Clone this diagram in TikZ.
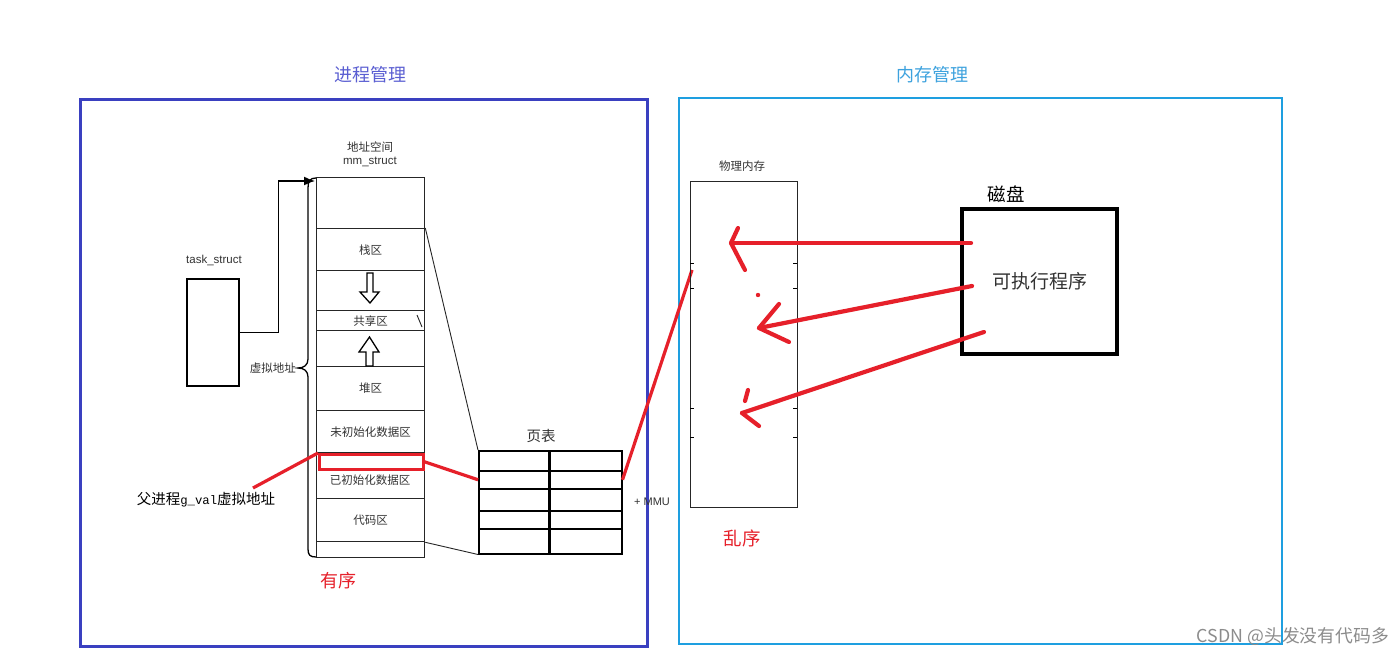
\documentclass[tikz,border=0pt]{standalone}
\usepackage{fontspec}
\setmainfont{Liberation Sans}
\newfontfamily\cjk{Noto Sans CJK SC}
\newfontfamily\monof{Liberation Mono}
\usetikzlibrary{arrows.meta,calc}
\definecolor{pblue}{HTML}{3A40C0}
\definecolor{pbluet}{HTML}{5A5ED2}
\definecolor{mcyan}{HTML}{1E9FE0}
\definecolor{mcyant}{HTML}{3DA2DE}
\definecolor{hred}{HTML}{E6202A}
\definecolor{txt}{HTML}{333333}
\tikzset{
  cell/.style={draw=black!85, line width=1.3pt, minimum width=108pt, anchor=north west, inner sep=0pt,
    font=\cjk\fontsize{11.5}{13}\selectfont, text=txt},
  small/.style={font=\cjk\fontsize{11.5}{13}\selectfont, text=txt, inner sep=0pt},
  ptcell/.style={draw=black, line width=1.5pt, anchor=north west, inner sep=0pt},
  big/.style={font=\cjk\fontsize{18}{20}\selectfont, inner sep=0pt},
  redline/.style={draw=hred, line width=3.2pt},
  handarrow/.style={draw=hred, line width=4.2pt, line cap=round, line join=round},
  tick/.style={draw=black, line width=1pt},
  hollow/.style={draw=black, line width=1.3pt, fill=white, line join=miter}
}
\begin{document}
\begin{tikzpicture}[x=1pt,y=-1pt]
\useasboundingbox (0,0) rectangle (1400,655);
\fill[white] (0,0) rectangle (1400,655);

% frames
\node[draw=pblue, line width=2.6pt, minimum width=567pt, minimum height=547pt, anchor=north west, inner sep=0pt] (left) at (79,98) {};
\node[draw=mcyan, line width=2.2pt, minimum width=603pt, minimum height=546pt, anchor=north west, inner sep=0pt] (right) at (678,97) {};
\node[big, text=pbluet] (ttl1) at (370,75) {进程管理};
\node[big, text=mcyant] (ttl2) at (932,75) {内存管理};

% address space column
\node[small] (as1) at (370,147) {地址空间};
\node[font=\fontsize{11.5}{13}\selectfont, text=txt, inner sep=0pt] (as2) at (370,162) {mm\_struct};
\node[cell, minimum height=51pt] (r0) at (316,177) {};
\node[cell, minimum height=42pt] (r1) at (316,228) {栈区};
\node[cell, minimum height=40pt] (r2) at (316,270) {};
\node[cell, minimum height=20pt] (r3) at (316,310) {共享区};
\node[cell, minimum height=36pt] (r4) at (316,330) {};
\node[cell, minimum height=44pt] (r5) at (316,366) {堆区};
\node[cell, minimum height=42pt] (r6) at (316,410) {未初始化数据区};
\node[cell, minimum height=46pt] (r7) at (316,452) {};
\node[small] (r7t) at (370,480) {已初始化数据区};
\node[cell, minimum height=43pt] (r8) at (316,498) {代码区};
\node[cell, minimum height=16pt] (r9) at (316,541) {};
\node[draw=hred, line width=2.6pt, minimum width=104pt, minimum height=15pt, anchor=north west, inner sep=0pt] (gv) at (318,453) {};

% hollow arrows
\draw[hollow] (367,273) -- (373,273) -- (373,292) -- (379,292) -- (370,303) -- (360,292) -- (367,292) -- cycle;
\draw[hollow] (366,366) -- (373,366) -- (373,352) -- (379,352) -- (369.5,337) -- (359,352) -- (366,352) -- cycle;

% brace
\draw[line width=1.3pt] (316,178) .. controls (310,178) and (308,181) .. (308,188) -- (308,359)
  .. controls (308,365) and (304,368) .. (298,368)
  .. controls (304,368) and (308,371) .. (308,377) -- (308,549)
  .. controls (308,555) and (310,557) .. (316,557);
\node[small, anchor=east] (va) at (296,368) {虚拟地址};

% task_struct
\node[font=\fontsize{11.5}{13}\selectfont, text=txt, inner sep=0pt] (tsl) at (214,260) {task\_struct};
\node[draw=black, line width=1.5pt, minimum width=52pt, minimum height=107pt, anchor=north west, inner sep=0pt] (ts) at (186,278) {};
\coordinate (ain) at (315,181);
\draw[line width=1.5pt, -{Latex[length=11pt,width=9pt]}] (ts.east) -- ++(39,0) |- (ain);

% page table
\node[font=\cjk\fontsize{14.5}{16}\selectfont, text=txt, inner sep=0pt] (ptl) at (541,436) {页表};
\node[ptcell, minimum width=70pt, minimum height=20pt] (t11) at (478,450) {};
\node[ptcell, minimum width=73pt, minimum height=20pt] (t12) at (548,450) {};
\node[ptcell, minimum width=70pt, minimum height=18pt] (t21) at (478,470) {};
\node[ptcell, minimum width=73pt, minimum height=18pt] (t22) at (548,470) {};
\node[ptcell, minimum width=70pt, minimum height=22pt] (t31) at (478,488) {};
\node[ptcell, minimum width=73pt, minimum height=22pt] (t32) at (548,488) {};
\node[ptcell, minimum width=70pt, minimum height=18pt] (t41) at (478,510) {};
\node[ptcell, minimum width=73pt, minimum height=18pt] (t42) at (548,510) {};
\node[ptcell, minimum width=70pt, minimum height=25pt] (t51) at (478,528) {};
\node[ptcell, minimum width=73pt, minimum height=25pt] (t52) at (548,528) {};
\draw[line width=3pt] (t11.north east) -- (t51.south east);

% thin connectors
\draw[line width=0.9pt, black!85] (r1.north east) -- (t11.north west);
\draw[line width=0.9pt, black!85] (r8.south east) -- (t51.south west);
\draw[line width=0.9pt, black!85] (417,315) -- (422,327);

\node[font=\fontsize{11}{13}\selectfont, text=txt, inner sep=0pt] (mmu) at (652,502) {+ MMU};

% labels red
\node[font=\cjk\fontsize{18}{20}\selectfont, text=hred, inner sep=0pt] (yx) at (338,581) {有序};
\node[font=\cjk\fontsize{18.5}{20}\selectfont, text=hred, inner sep=0pt] (lx) at (742,538) {乱序};
\node[inner sep=0pt, text=black] (fu) at (206,500) {\cjk\fontsize{14.5}{16}\selectfont 父进程{\monof\fontsize{12.3}{16}\selectfont g\_val}虚拟地址};
\coordinate (fuc) at (253,488);
\draw[redline] (fuc) -- (gv.north west);
\draw[redline] (gv.east) -- (t21.west);
\coordinate (pmin) at (692,270);
\draw[redline] (t22.east) -- (pmin);

% physical memory
\node[small] (pml) at (742,166) {物理内存};
\node[draw=black!85, line width=1.3pt, minimum width=107pt, minimum height=326pt, anchor=north west, inner sep=0pt] (pm) at (690,181) {};
\foreach \yy in {263,288,408,437} {
  \draw[tick] (690,\yy) -- (694,\yy);
  \draw[tick] (793,\yy) -- (797,\yy);
}

% disk
\node[font=\cjk\fontsize{18.5}{20}\selectfont, text=black, inner sep=0pt] (dl) at (1006,194) {磁盘};
\node[draw=black, line width=4pt, minimum width=155pt, minimum height=145pt, anchor=north west, inner sep=0pt,
  font=\cjk\fontsize{19}{21}\selectfont, text=txt] (disk) at (960,207) {可执行程序};

% hand-drawn arrows
\draw[handarrow] (971,243) -- (731,243);
\draw[handarrow] (738,228) -- (731,243) -- (745,270);
\draw[handarrow] (972,286) -- (759,328);
\draw[handarrow] (779,304) -- (759,328) -- (789,342);
\fill[hred] (758,295) circle (2.2pt);
\draw[handarrow] (984,332) -- (742,413);
\draw[handarrow] (748,390) -- (745,401);
\draw[handarrow] (742,413) -- (759,426);

% watermark
\node[font=\cjk\fontsize{17.8}{19}\selectfont, text=black!45, inner sep=0pt, anchor=east] (wm) at (1389,637) {CSDN @头发没有代码多};
\end{tikzpicture}
\end{document}
